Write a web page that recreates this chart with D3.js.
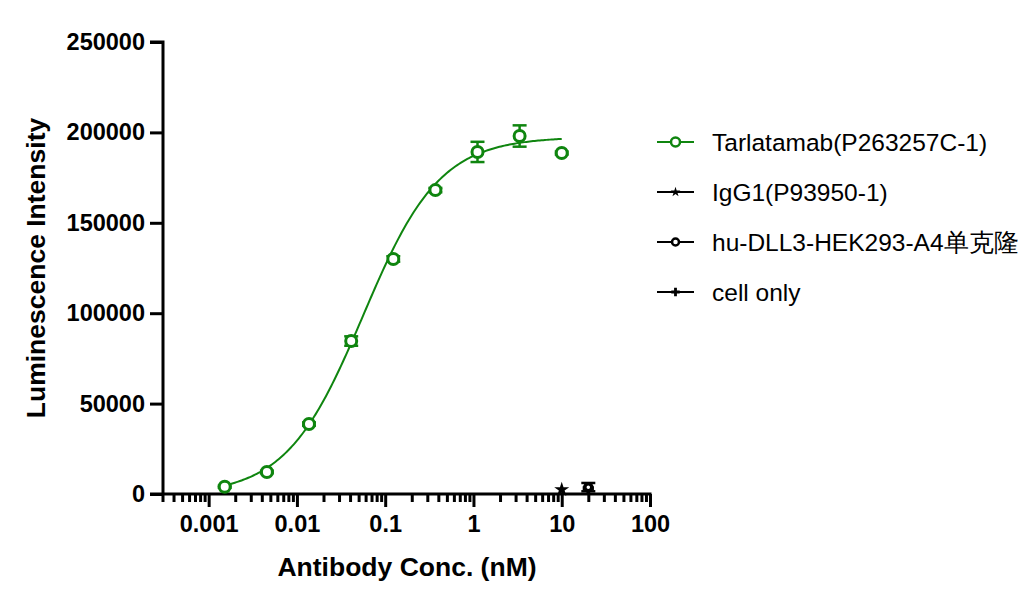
<!DOCTYPE html>
<html>
<head>
<meta charset="utf-8">
<script src="https://cdn.jsdelivr.net/npm/d3@7"></script>
<style>
  body { margin: 0; background: #fff; }
  text { font-family: "Liberation Sans", Arial, sans-serif; }
</style>
</head>
<body>
<svg width="1032" height="598"></svg>
<script>
// Tarlatamab dilution series (nM) and luminescence
const tarlaConc = [0.00152, 0.00457, 0.0137, 0.0412, 0.1235, 0.3704, 1.111, 3.333, 10]
const tarlaMean = [4000, 12200, 38700, 84600, 130000, 168100, 189200, 198000, 188600]
const tarlaErr = [600, 700, 900, 2600, 1500, 1200, 5600, 5900, 800]

// 4PL fit of the Tarlatamab curve
const fitBottom = -500
const fitTop = 197500
const fitEC50 = 0.056
const fitHill = 1.0

const igg1Conc = [10]
const igg1Mean = [2400]

const cellLineConc = [20]
const cellLineMean = [3800]
const cellLineErr = [2300]

const cellOnlyConc = [20]
const cellOnlyMean = [3200]

const xTicks = [0.001, 0.01, 0.1, 1, 10, 100]
const yTicks = [0, 50000, 100000, 150000, 200000, 250000]
const legendLabels = ['Tarlatamab(P263257C-1)', 'IgG1(P93950-1)', 'hu-DLL3-HEK293-A4单克隆', 'cell only']

const green = '#0f850f'

const svg = d3.select('svg')

const x = d3.scaleLog().domain([0.0003, 100]).range([162.5, 650])
const y = d3.scaleLinear().domain([0, 250000]).range([494, 42])

// axes
const yAxis = svg.append('g')
    .attr('transform', 'translate(163,0)')
    .call(d3.axisLeft(y).tickValues(yTicks).tickSize(13).tickPadding(5).tickFormat(d3.format('d')))
yAxis.select('.domain').attr('stroke-width', 3).attr('d', 'M-13,42H0V494')
yAxis.selectAll('.tick line').attr('stroke-width', 3)
yAxis.selectAll('text')
    .style('font-size', '23.5px')
    .style('font-weight', 'bold')
    .attr('fill', '#000')

let minorTicks = []
for (let e = -4; e < 2; e++) {
    for (let m = 2; m < 10; m++) {
        let v = m * Math.pow(10, e)
        if (v >= 0.0003 && v < 100) minorTicks.push(+v.toPrecision(3))
    }
}

const xMinor = svg.append('g')
    .attr('transform', 'translate(0,494)')
    .call(d3.axisBottom(x).tickValues(minorTicks).tickSize(8).tickFormat(''))
xMinor.select('.domain').remove()
xMinor.selectAll('.tick line').attr('stroke-width', 3)

const xAxis = svg.append('g')
    .attr('transform', 'translate(0,494)')
    .call(d3.axisBottom(x).tickValues(xTicks).tickSize(13).tickPadding(8).tickFormat(d => d3.format('~g')(d)))
xAxis.select('.domain').attr('stroke-width', 3).attr('d', 'M150,0H651.5')
xAxis.selectAll('.tick line').attr('stroke-width', 3)
xAxis.selectAll('text')
    .style('font-size', '23.5px')
    .style('font-weight', 'bold')
    .attr('fill', '#000')

// titles
svg.append('text')
    .attr('x', 407)
    .attr('y', 576)
    .attr('text-anchor', 'middle')
    .style('font-size', '26.5px')
    .style('font-weight', 'bold')
    .text('Antibody Conc. (nM)')

svg.append('text')
    .attr('transform', 'translate(45,268) rotate(-90)')
    .attr('text-anchor', 'middle')
    .style('font-size', '26.5px')
    .style('font-weight', 'bold')
    .text('Luminescence Intensity')

// fitted curve, sampled evenly in log space
const fit = c => fitBottom + (fitTop - fitBottom) / (1 + Math.pow(fitEC50 / c, fitHill))
const lo = Math.log10(tarlaConc[0]), hi = Math.log10(tarlaConc[tarlaConc.length - 1])
const curveX = d3.range(0, 201).map(i => Math.pow(10, lo + (hi - lo) * i / 200))

svg.append('path')
    .datum(curveX)
    .attr('fill', 'none')
    .attr('stroke', green)
    .attr('stroke-width', 2)
    .attr('d', d3.line().x(d => x(d)).y(d => y(fit(d))))

// error bars
const drawErr = function (conc, mean, err, color) {
    const g = svg.append('g').attr('stroke', color).attr('stroke-width', 2.5)
    conc.forEach((c, i) => {
        let cx = x(c), top = y(mean[i] + err[i]), bot = y(mean[i] - err[i])
        g.append('line').attr('x1', cx).attr('x2', cx).attr('y1', top).attr('y2', bot)
        g.append('line').attr('x1', cx - 7).attr('x2', cx + 7).attr('y1', top).attr('y2', top)
        g.append('line').attr('x1', cx - 7).attr('x2', cx + 7).attr('y1', bot).attr('y2', bot)
    })
}
drawErr(tarlaConc, tarlaMean, tarlaErr, green)
drawErr(cellLineConc, cellLineMean, cellLineErr, '#000')

// markers
svg.append('g')
    .selectAll('circle')
    .data(tarlaConc)
    .enter()
    .append('circle')
    .attr('cx', d => x(d))
    .attr('cy', (d, i) => y(tarlaMean[i]))
    .attr('r', 5.5)
    .attr('fill', '#fff')
    .attr('stroke', green)
    .attr('stroke-width', 3)

svg.append('g')
    .selectAll('path')
    .data(cellOnlyConc)
    .enter()
    .append('path')
    .attr('transform', (d, i) => `translate(${x(d)},${y(cellOnlyMean[i])})`)
    .attr('d', d3.symbol().type(d3.symbolCross).size(70))
    .attr('fill', '#000')

svg.append('g')
    .selectAll('circle')
    .data(cellLineConc)
    .enter()
    .append('circle')
    .attr('cx', d => x(d))
    .attr('cy', (d, i) => y(cellLineMean[i]))
    .attr('r', 3.5)
    .attr('fill', '#fff')
    .attr('stroke', '#000')
    .attr('stroke-width', 3.5)

svg.append('g')
    .selectAll('path')
    .data(igg1Conc)
    .enter()
    .append('path')
    .attr('transform', (d, i) => `translate(${x(d)},${y(igg1Mean[i])})`)
    .attr('d', d3.symbol().type(d3.symbolStar).size(70))
    .attr('fill', '#000')

// legend
const legend = svg.append('g').attr('transform', 'translate(657,142)')
legendLabels.forEach((label, i) => {
    const row = legend.append('g').attr('transform', `translate(0,${i * 50})`)
    const color = i === 0 ? green : '#000'
    row.append('line')
        .attr('x1', 0).attr('x2', 37)
        .attr('stroke', color)
        .attr('stroke-width', 2)
    if (i === 0) {
        row.append('circle').attr('cx', 18.5).attr('r', 4.5)
            .attr('fill', '#fff').attr('stroke', color).attr('stroke-width', 2.5)
    } else if (i === 1) {
        row.append('path').attr('transform', 'translate(18.5,0)')
            .attr('d', d3.symbol().type(d3.symbolStar).size(30)).attr('fill', '#000')
    } else if (i === 2) {
        row.append('circle').attr('cx', 18.5).attr('r', 3.5)
            .attr('fill', '#fff').attr('stroke', '#000').attr('stroke-width', 2.5)
    } else {
        row.append('path').attr('transform', 'translate(18.5,0)')
            .attr('d', d3.symbol().type(d3.symbolCross).size(40)).attr('fill', '#000')
    }
    row.append('text')
        .attr('x', 55)
        .attr('y', 8.5)
        .style('font-size', '24.5px')
        .attr('fill', '#000')
        .text(label)
})
</script>
</body>
</html>
